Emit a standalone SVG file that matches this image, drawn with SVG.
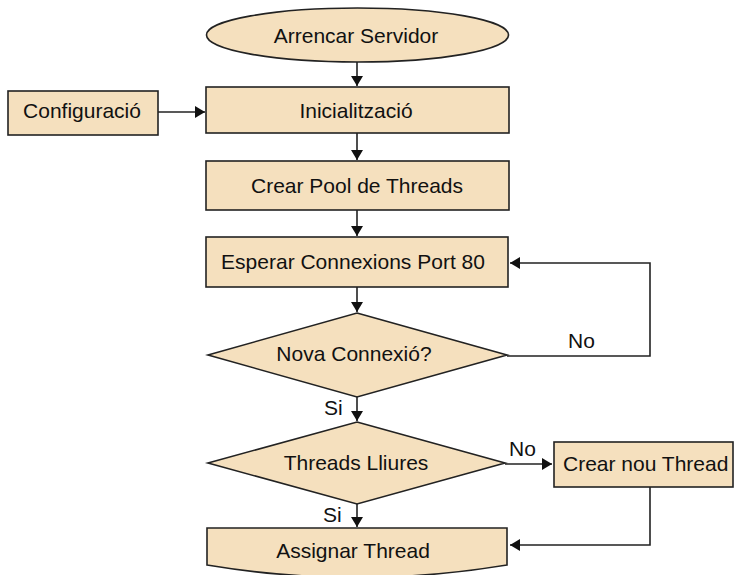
<svg xmlns="http://www.w3.org/2000/svg" width="735" height="575" viewBox="0 0 735 575">
<style>
.n{fill:#F5E0BE;stroke:#222;stroke-width:1.6}
.t{font-family:"Liberation Sans",Arial,sans-serif;font-size:21px;fill:#111;text-anchor:middle}
.l{font-family:"Liberation Sans",Arial,sans-serif;font-size:21px;fill:#111}
.c{fill:none;stroke:#222;stroke-width:1.6}
</style>
<defs>
<marker id="a" viewBox="0 0 10 12" refX="10" refY="6" markerWidth="10" markerHeight="12" markerUnits="userSpaceOnUse" orient="auto">
<path d="M0,0 L10,6 L0,12 z" fill="#111"/>
</marker>
</defs>
<rect width="735" height="575" fill="#fff"/>
<g id="connectors">
<path class="c" d="M357,62 V86" marker-end="url(#a)"/>
<path class="c" d="M158,112 H205" marker-end="url(#a)"/>
<path class="c" d="M357,133 V160" marker-end="url(#a)"/>
<path class="c" d="M357,210 V236" marker-end="url(#a)"/>
<path class="c" d="M357,287 V312" marker-end="url(#a)"/>
<path class="c" d="M507,356 H650 V263 H510" marker-end="url(#a)"/>
<path class="c" d="M357,397 V421" marker-end="url(#a)"/>
<path class="c" d="M505,464 H552" marker-end="url(#a)"/>
<path class="c" d="M357,504 V527" marker-end="url(#a)"/>
<path class="c" d="M650,487 V545 H510" marker-end="url(#a)"/>
<text class="l" x="568" y="348">No</text>
<text class="l" x="509" y="456">No</text>
<text class="l" x="324" y="415">Si</text>
<text class="l" x="323" y="522">Si</text>
</g>
<g id="arrencar">
<ellipse class="n" cx="357.5" cy="35" rx="151" ry="27"/>
<text class="t" x="356" y="43">Arrencar Servidor</text>
</g>
<g id="configuracio">
<rect class="n" x="8" y="91" width="150" height="44"/>
<text class="t" x="82" y="118">Configuració</text>
</g>
<g id="inicialitzacio">
<rect class="n" x="206" y="87" width="303" height="46"/>
<text class="t" x="356" y="118">Inicialització</text>
</g>
<g id="crear-pool">
<rect class="n" x="206" y="161" width="303" height="49"/>
<text class="t" x="357" y="193">Crear Pool de Threads</text>
</g>
<g id="esperar">
<rect class="n" x="206" y="237" width="302" height="50"/>
<text class="t" x="353" y="269">Esperar Connexions Port 80</text>
</g>
<g id="nova-connexio">
<polygon class="n" points="357,313 507,355 357,397 208,355"/>
<text class="t" x="354" y="361">Nova Connexió?</text>
</g>
<g id="threads-lliures">
<polygon class="n" points="357,422 505,463 357,504 208,463"/>
<text class="t" x="356" y="470">Threads Lliures</text>
</g>
<g id="crear-nou">
<rect class="n" x="554" y="442" width="179" height="45"/>
<text class="l" x="563" y="471">Crear nou Thread</text>
</g>
<g id="assignar">
<path class="n" d="M207,528 H507 V565 Q357,590 207,565 Z"/>
<text class="t" x="353" y="558">Assignar Thread</text>
</g>
</svg>
